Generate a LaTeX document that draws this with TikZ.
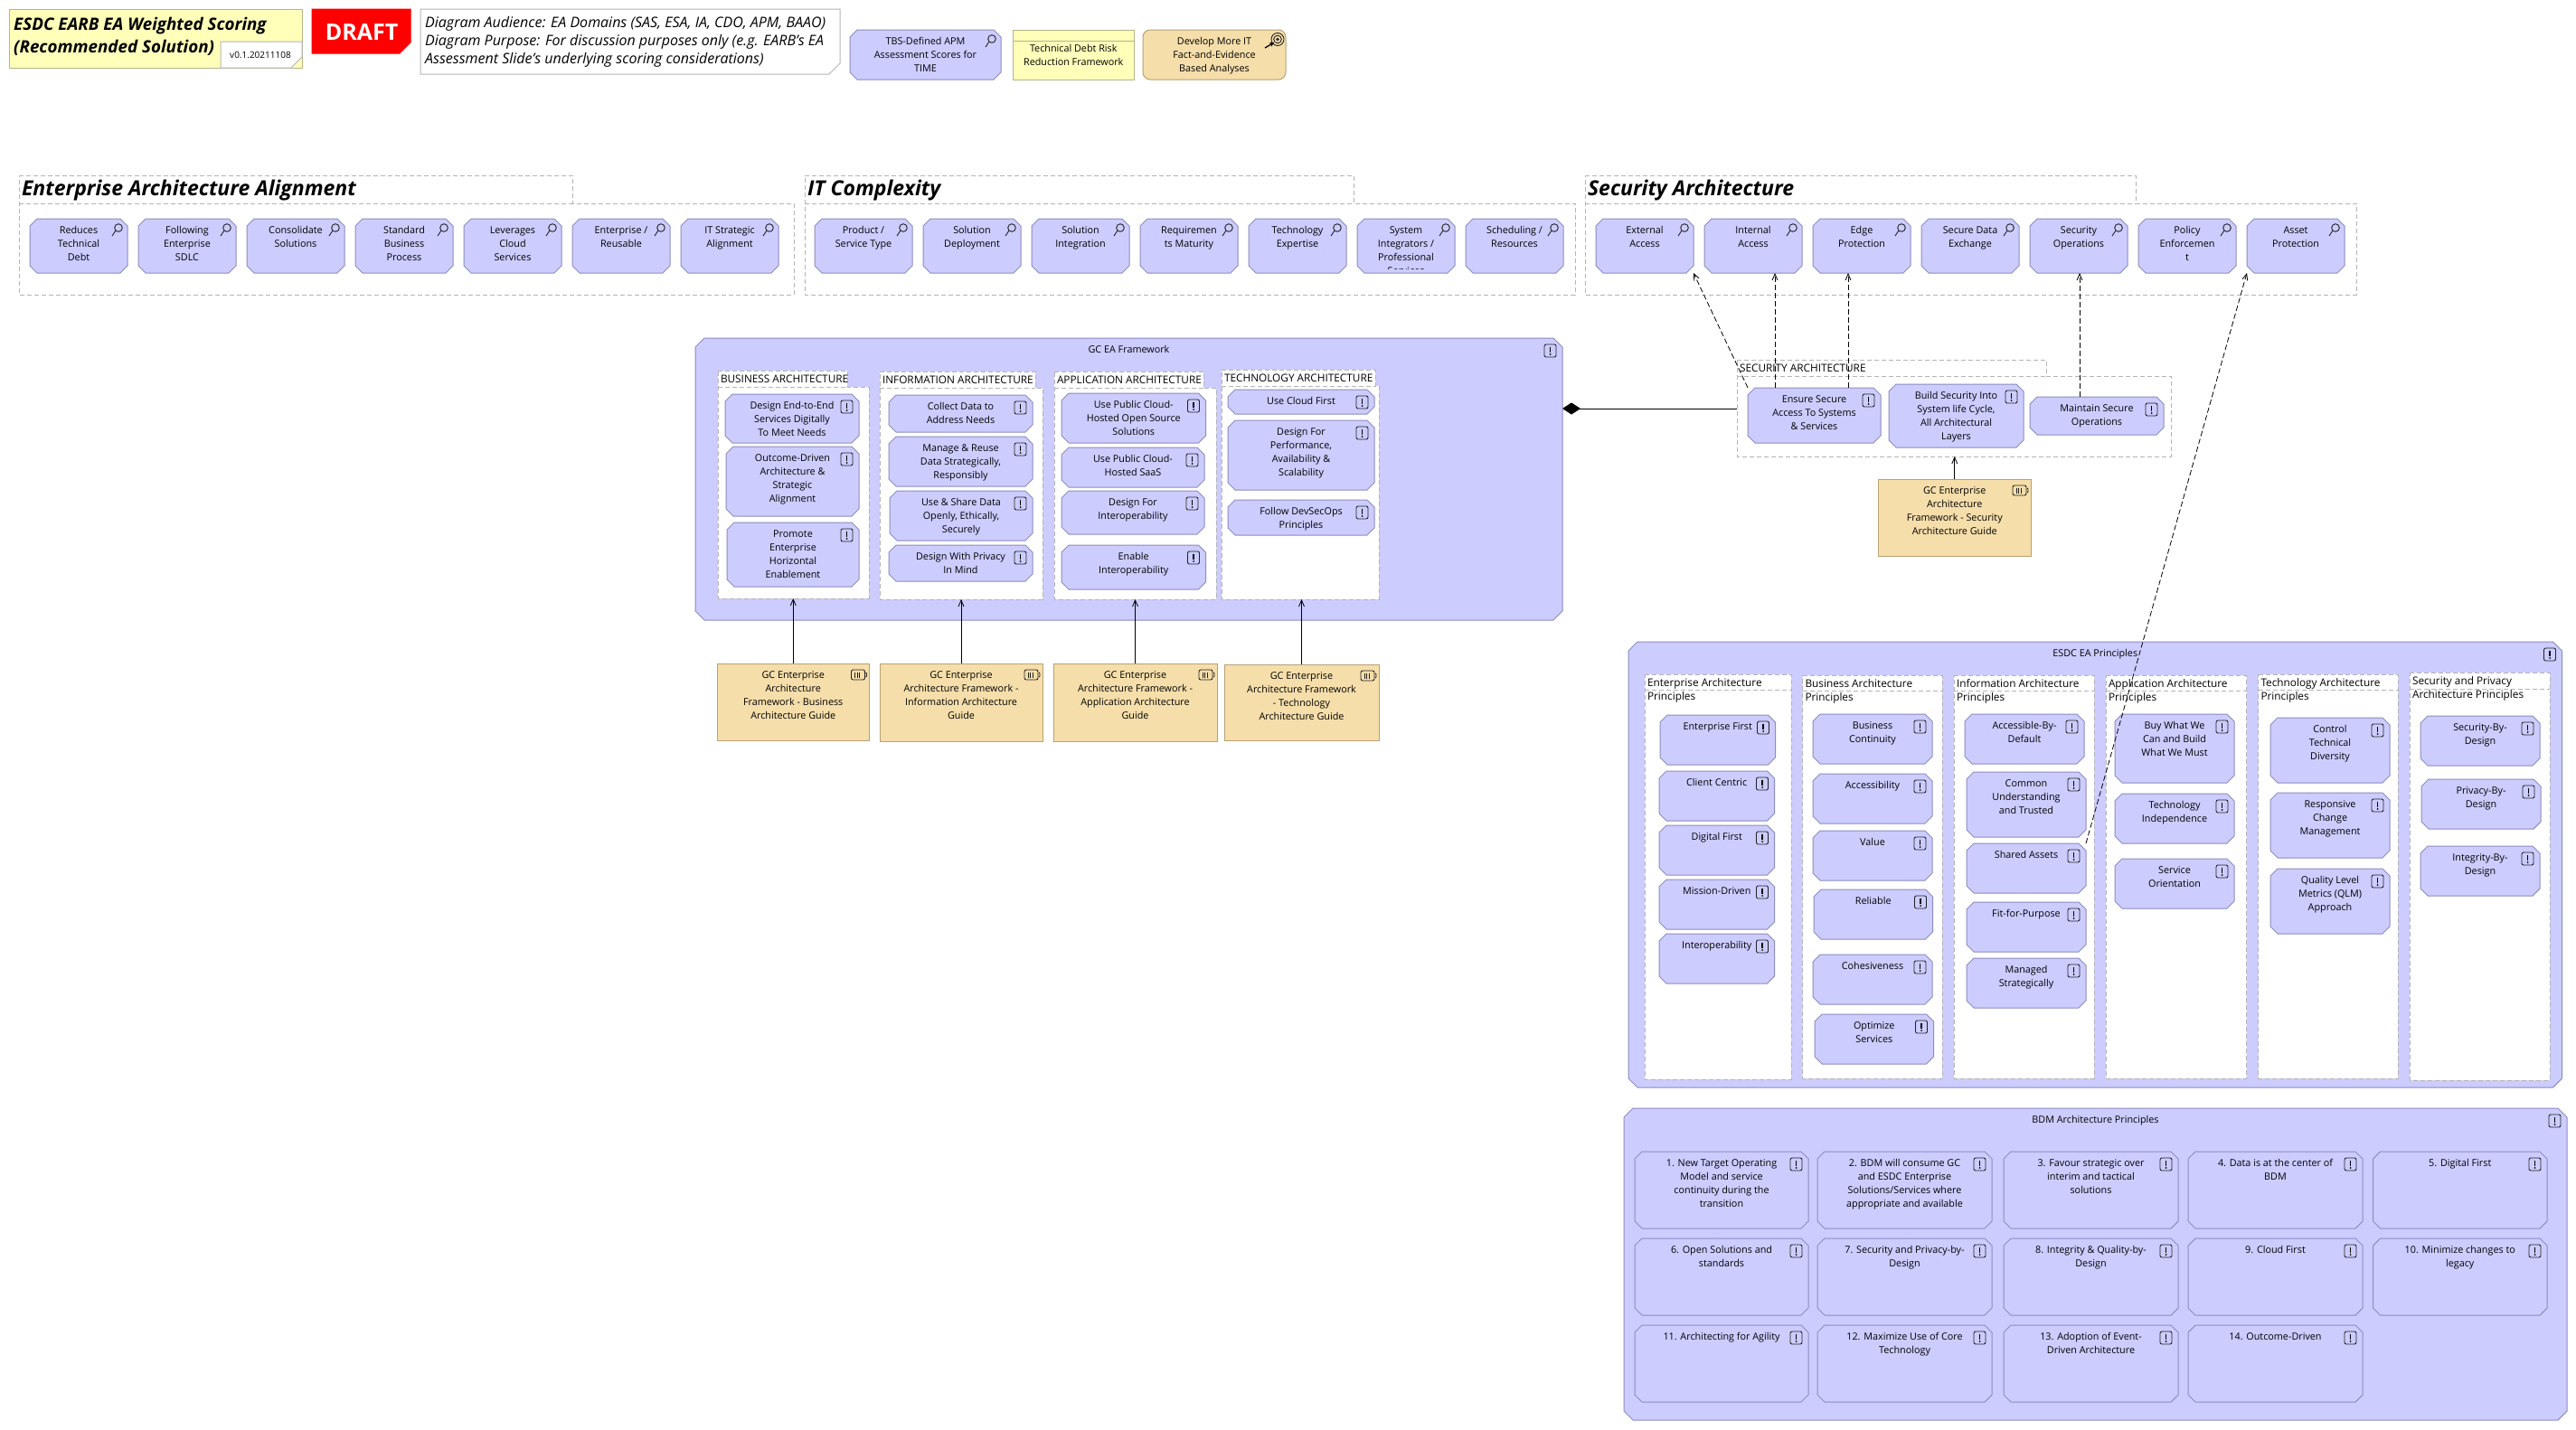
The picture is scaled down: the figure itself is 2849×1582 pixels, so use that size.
\documentclass[tikz,border=0pt]{standalone}
\usepackage{fontspec}
\setmainfont{Open Sans}
\usetikzlibrary{arrows.meta}
\definecolor{elfill}{HTML}{CCCCFF}
\definecolor{elline}{HTML}{8C8CBE}
\definecolor{orfill}{HTML}{F5DEAA}
\definecolor{orline}{HTML}{B8A276}
\definecolor{yefill}{HTML}{FFFFBA}
\definecolor{yeline}{HTML}{B5B58A}
\definecolor{grline}{HTML}{B4B4B4}
\definecolor{icline}{HTML}{222222}
\newcommand{\bodyfont}{\fontsize{10.8}{15}\selectfont}
\newcommand{\grpfont}{\fontsize{11.8}{15}\selectfont}
\newcommand{\hugefont}{\fontsize{18.8}{25}\selectfont\bfseries\itshape}
\newcommand{\notefont}{\fontsize{16}{20}\selectfont\itshape}
\newcommand{\secfont}{\fontsize{23}{25}\selectfont\bfseries\itshape}
\newcommand{\bW}{}\newcommand{\bH}{}
\tikzset{
  boxtext/.style={rectangle,inner sep=0pt,outer sep=0pt,font=\bodyfont,text=black},
  elshape/.style={fill=elfill,draw=elline,line width=1pt},
  orshape/.style={fill=orfill,draw=orline,line width=1pt},
  grpshape/.style={fill=white,draw=grline,line width=1pt,dash pattern=on 5pt off 3pt},
  iconline/.style={draw=icline,line width=.9pt},
  realizes/.style={draw=black,line width=.8pt,-{Straight Barb[length=7pt,width=6pt]}},
  dashedrel/.style={realizes,dash pattern=on 6pt off 3pt},
  composed/.style={draw=black,line width=.9pt,-{Diamond[length=20pt,width=13pt]}},
}
% text carrying box, top aligned
\newcommand{\txtbox}[6]{%
  \pgfmathsetlengthmacro\bW{#4-#2}\pgfmathsetlengthmacro\bH{#5-#3}%
  \begin{scope}
    \clip (#2,#3) rectangle (#4,{#5-5});
    \node[boxtext] (#1) at ({(#2+#4)/2},{(#3+#5)/2})
      {\parbox[c][\bH][t]{\bW}{\centering\vspace*{6pt}\rule{0pt}{10.5pt}#6\par}};
  \end{scope}}
% chamfered outline: style, x1,y1,x2,y2, c
\newcommand{\chamf}[6]{%
  \path[#1] ({#2+#6},#3) -- ({#4-#6},#3) -- (#4,{#3+#6}) -- (#4,{#5-#6}) -- ({#4-#6},#5)
    -- ({#2+#6},#5) -- (#2,{#5-#6}) -- (#2,{#3+#6}) -- cycle;}
\newcommand{\icmag}[2]{%
  \draw[iconline] ({#1-10},{#2+10}) circle (4.3);
  \draw[iconline] ({#1-13},{#2+13}) -- ({#1-17},{#2+19});}
\newcommand{\iccon}[2]{%
  \draw[iconline,rounded corners=2pt] ({#1-20},{#2+7}) rectangle ({#1-7},{#2+21});
  \draw[draw=black,line width=1.6pt] ({#1-13.5},{#2+9.5}) -- ({#1-13.5},{#2+15.5});
  \fill[black] ({#1-13.5},{#2+18}) circle (1);}
\newcommand{\ictrc}[2]{%
  \draw[iconline,rounded corners=2pt] ({#1-20},{#2+7}) rectangle ({#1-5},{#2+18});
  \draw[iconline] ({#1-4},{#2+10}) -- ({#1-3},{#2+11}) -- ({#1-3},{#2+14}) -- ({#1-4},{#2+15});
  \foreach \k in {16,13.5,11} {\draw[icline,line width=.7pt] ({#1-\k},{#2+9.5}) -- ({#1-\k},{#2+15.5});}}
\newcommand{\elm}[6]{\chamf{elshape}{#2}{#3}{#4}{#5}{8}\txtbox{#1}{#2}{#3}{#4}{#5}{#6}\icmag{#4}{#3}}
\newcommand{\elc}[6]{\chamf{elshape}{#2}{#3}{#4}{#5}{8}\txtbox{#1}{#2}{#3}{#4}{#5}{#6}\iccon{#4}{#3}}
\newcommand{\frm}[6]{\chamf{elshape}{#2}{#3}{#4}{#5}{10}\txtbox{#1}{#2}{#3}{#4}{#5}{#6}\iccon{#4}{#3}}
\newcommand{\ctr}[6]{\path[orshape] (#2,#3) rectangle (#4,#5);\txtbox{#1}{#2}{#3}{#4}{#5}{#6}\ictrc{#4}{#3}}
% group: name,x1,ytab,xtab,ybody,x2,y2,label
\newcommand{\grp}[8]{%
  \path[grpshape] (#2,#3) -- (#4,#3) -- (#4,#5) -- (#6,#5) -- (#6,#7) -- (#2,#7) -- cycle;
  \draw[grline,line width=1pt,dash pattern=on 5pt off 3pt] (#2,#5) -- (#4,#5);
  \pgfmathsetlengthmacro\bW{#6-#2}\pgfmathsetlengthmacro\bH{#7-#5}%
  \node[rectangle,inner sep=0pt,outer sep=0pt,minimum width=\bW,minimum height=\bH] (#1) at ({(#2+#6)/2},{(#5+#7)/2}) {};
  \node[boxtext,font=\grpfont,anchor=north west,align=left] (#1-label) at ({#2+3},{#3+4.8}) {#8};}
\begin{document}
\begin{tikzpicture}[x=1pt,y=-1pt]
\useasboundingbox (0,0) rectangle (2849,1582);
\fill[white] (0,0) rectangle (2849,1582);
% ---- header
\path[fill=yefill,draw=yeline,line width=1pt] (10,10) rectangle (334,75);
\node[anchor=north west,inner sep=0pt,align=left,font=\hugefont] (title) at (15,19.5) {ESDC EARB EA Weighted Scoring\\(Recommended Solution)};
\path[fill=white,draw=grline,line width=1pt] (244,46) -- (334,46) -- (334,63) -- (322,75) -- (244,75) -- cycle;
\node[inner sep=0pt,font=\fontsize{10}{12}\selectfont] (version) at (288,61) {v0.1.20211108};
\path[fill=red,draw=red,line width=1pt] (345,10) -- (454,10) -- (454,47) -- (442,59) -- (345,59) -- cycle;
\node[inner sep=0pt,text=white,font=\fontsize{25}{28}\selectfont\bfseries] (draft) at (400,36) {DRAFT};
\path[fill=white,draw=grline,line width=1pt] (465,10) -- (929,10) -- (929,70) -- (917,82) -- (465,82) -- cycle;
\node[anchor=north west,inner sep=0pt,align=left,font=\notefont] (audience) at (470,18) {Diagram Audience: EA Domains (SAS, ESA, IA, CDO, APM, BAAO)\\Diagram Purpose: For discussion purposes only (e.g. EARB's EA\\Assessment Slide's underlying scoring considerations)};
\elm{tbs}{940}{33}{1107}{88}{TBS-Defined APM\\Assessment Scores for\\TIME}
\path[fill=yefill,draw=yeline,line width=1pt] (1120,33) rectangle (1254.5,88);
\draw[yeline,line width=1pt] (1120,45) -- (1254.5,45);
\txtbox{debt}{1120}{41}{1254.5}{88}{Technical Debt Risk\\Reduction Framework}
\path[orshape,rounded corners=8pt] (1264,33) rectangle (1422,88);
\txtbox{goal}{1264}{33}{1422}{88}{Develop More IT\\Fact-and-Evidence\\Based Analyses}
\draw[iconline] (1413,43.5) circle (7) (1413,43.5) circle (4.3);
\fill[icline] (1413,43.5) circle (1.8);
\draw[draw=black,line width=1.3pt,-{Stealth[length=5pt,width=5pt]}] (1399,53) -- (1409,47);
% ---- scoring groups
\grp{eagrp}{21}{194}{633}{225}{878}{326}{\secfont Enterprise Architecture Alignment}
\elm{reduces}{33}{242}{141}{302}{Reduces\\Technical\\Debt}
\elm{following}{153}{242}{261}{302}{Following\\Enterprise\\SDLC}
\elm{consolidate}{273}{242}{381}{302}{Consolidate\\Solutions}
\elm{standard}{393}{242}{501}{302}{Standard\\Business\\Process}
\elm{leverages}{513}{242}{621}{302}{Leverages\\Cloud\\Services}
\elm{reusable}{633}{242}{741}{302}{Enterprise /\\Reusable}
\elm{itstrat}{753}{242}{861}{302}{IT Strategic\\Alignment}
\grp{itgrp}{890}{194}{1497.5}{225}{1742}{326}{\secfont IT Complexity}
\elm{product}{901}{242}{1009}{302}{Product /\\Service Type}
\elm{soldep}{1021}{242}{1129}{302}{Solution\\Deployment}
\elm{solint}{1141}{242}{1249}{302}{Solution\\Integration}
\elm{reqmat}{1261}{242}{1369}{302}{Requiremen\\ts Maturity}
\elm{techexp}{1381}{242}{1489}{302}{Technology\\Expertise}
\elm{sysint}{1501}{242}{1609}{302}{System\\Integrators /\\Professional\\Services}
\elm{sched}{1621}{242}{1729}{302}{Scheduling /\\Resources}
\grp{secgrp}{1753}{194}{2362}{225}{2606}{326}{\secfont Security Architecture}
\elm{external}{1765}{242}{1873}{302}{External\\Access}
\elm{internal}{1885}{242}{1993}{302}{Internal\\Access}
\elm{edge}{2005}{242}{2113}{302}{Edge\\Protection}
\elm{securedata}{2125}{242}{2233}{302}{Secure Data\\Exchange}
\elm{secops}{2245}{242}{2353}{302}{Security\\Operations}
\elm{policy}{2365}{242}{2473}{302}{Policy\\Enforcemen\\t}
\elm{asset}{2485}{242}{2593}{302}{Asset\\Protection}
% ---- GC EA framework
\frm{gcea}{769}{374}{1728}{686}{GC EA Framework}
\grp{bagrp}{794}{410}{937}{428}{961}{662}{BUSINESS ARCHITECTURE}
\elc{ba1}{802}{436}{950}{490}{Design End-to-End\\Services Digitally\\To Meet Needs}
\elc{ba2}{803}{494}{950}{571}{Outcome-Driven\\Architecture \&\\Strategic\\Alignment}
\elc{ba3}{804}{578}{950}{649}{Promote\\Enterprise\\Horizontal\\Enablement}
\grp{iagrp}{973}{411}{1145}{429}{1153}{663}{INFORMATION ARCHITECTURE}
\elc{ia1}{983}{437}{1142}{478}{Collect Data to\\Address Needs}
\elc{ia2}{983}{483}{1142}{538}{Manage \& Reuse\\Data Strategically,\\Responsibly}
\elc{ia3}{984}{543}{1142}{598}{Use \& Share Data\\Openly, Ethically,\\Securely}
\elc{ia4}{983}{603}{1142}{643}{Design With Privacy\\In Mind}
\grp{aagrp}{1166}{411}{1331}{429}{1345}{663}{APPLICATION ARCHITECTURE}
\elc{aa1}{1174}{435}{1333.5}{490}{Use Public Cloud-\\Hosted Open Source\\Solutions}
\elc{aa2}{1174}{495}{1332}{539}{Use Public Cloud-\\Hosted SaaS}
\elc{aa3}{1174}{543}{1332}{591}{Design For\\Interoperability}
\elc{aa4}{1174}{603}{1333.5}{652}{Enable\\Interoperability}
\grp{tagrp}{1351}{409}{1521}{427}{1525}{663}{TECHNOLOGY ARCHITECTURE}
\elc{ta1}{1358}{431}{1520}{458}{Use Cloud First}
\elc{ta2}{1358}{465}{1520}{542}{Design For\\Performance,\\Availability \&\\Scalability}
\elc{ta3}{1358}{553}{1520}{592}{Follow DevSecOps\\Principles}
\ctr{gba}{793}{734}{961.5}{819}{GC Enterprise\\Architecture\\Framework - Business\\Architecture Guide}
\ctr{gia}{973}{734}{1153}{820}{GC Enterprise\\Architecture Framework -\\Information Architecture\\Guide}
\ctr{gaa}{1165}{734}{1346}{820}{GC Enterprise\\Architecture Framework -\\Application Architecture\\Guide}
\ctr{gta}{1354}{735}{1525}{819}{GC Enterprise\\Architecture Framework\\- Technology\\Architecture Guide}
% ---- security architecture
\grp{sagrp}{1921}{398}{2263.5}{416}{2401}{505}{SECURITY ARCHITECTURE}
\elc{ensure}{1933}{429}{2080}{490}{Ensure Secure\\Access To Systems\\\& Services}
\elc{build}{2089}{425}{2238}{495}{Build Security Into\\System life Cycle,\\All Architectural\\Layers}
\elc{maintain}{2245}{439}{2393}{481}{Maintain Secure\\Operations}
\ctr{gsa}{2077.5}{530}{2246}{615}{GC Enterprise\\Architecture\\Framework - Security\\Architecture Guide}
% ---- ESDC EA principles
\frm{esdc}{1801}{710}{2833.5}{1203}{ESDC EA Principles}
\grp{p1}{1819}{746}{1981}{763}{1981}{1194}{Enterprise Architecture\\Principles}
\elc{p11}{1836}{791}{1963.5}{846}{Enterprise First}
\elc{p12}{1835}{853}{1962.5}{908}{Client Centric}
\elc{p13}{1835}{913}{1962.5}{968}{Digital First}
\elc{p14}{1835}{973}{1962.5}{1028}{Mission-Driven}
\elc{p15}{1835}{1033}{1962.5}{1088}{Interoperability}
\grp{p2}{1993.5}{747}{2148}{764}{2148}{1193}{Business Architecture\\Principles}
\elc{p21}{2005}{790}{2137}{845}{Business\\Continuity}
\elc{p22}{2005}{856}{2137}{911}{Accessibility}
\elc{p23}{2005}{919}{2137}{974}{Value}
\elc{p24}{2006}{984}{2137.5}{1039}{Reliable}
\elc{p25}{2005}{1056}{2137}{1111}{Cohesiveness}
\elc{p26}{2007}{1122}{2138.5}{1177}{Optimize\\Services}
\grp{p3}{2161}{747}{2316}{764}{2316}{1193}{Information Architecture\\Principles}
\elc{p31}{2173}{790}{2305}{845}{Accessible-By-\\Default}
\elc{p32}{2175}{854}{2307}{926}{Common\\Understanding\\and Trusted}
\elc{shared}{2175}{933}{2307}{988}{Shared Assets}
\elc{p34}{2175}{998}{2307}{1053}{Fit-for-Purpose}
\elc{p35}{2175}{1060}{2307}{1115}{Managed\\Strategically}
\grp{p4}{2329}{747}{2484.5}{764}{2484.5}{1193}{Application Architecture\\Principles}
\elc{p41}{2339}{790}{2471}{866}{Buy What We\\Can and Build\\What We Must}
\elc{p42}{2339}{878}{2471}{933}{Technology\\Independence}
\elc{p43}{2339}{950}{2471}{1005}{Service\\Orientation}
\grp{p5}{2497.5}{746}{2652}{763}{2652}{1193}{Technology Architecture\\Principles}
\elc{p51}{2511}{794}{2643}{866}{Control\\Technical\\Diversity}
\elc{p52}{2511}{877}{2643}{949}{Responsive\\Change\\Management}
\elc{p53}{2511}{961}{2643}{1033}{Quality Level\\Metrics (QLM)\\Approach}
\grp{p6}{2665}{744}{2820}{762}{2820}{1195}{Security and Privacy\\Architecture Principles}
\elc{p61}{2677}{792}{2809}{847}{Security-By-\\Design}
\elc{p62}{2678}{862}{2810}{917}{Privacy-By-\\Design}
\elc{p63}{2677}{936}{2809}{991}{Integrity-By-\\Design}
% ---- BDM
\frm{bdm}{1796}{1226}{2839}{1571}{BDM Architecture Principles}
\elc{b1}{1808}{1274}{2000}{1359}{1. New Target Operating\\Model and service\\continuity during the\\transition}
\elc{b2}{2010}{1274}{2203}{1359}{2. BDM will consume GC\\and ESDC Enterprise\\Solutions/Services where\\appropriate and available}
\elc{b3}{2216}{1274}{2409}{1359}{3. Favour strategic over\\interim and tactical\\solutions}
\elc{b4}{2420}{1274}{2613}{1359}{4. Data is at the center of\\BDM}
\elc{b5}{2624.5}{1274}{2817}{1359}{5. Digital First}
\elc{b6}{1808}{1370}{2000}{1455}{6. Open Solutions and\\standards}
\elc{b7}{2010}{1370}{2203}{1455}{7. Security and Privacy-by-\\Design}
\elc{b8}{2216}{1370}{2409}{1455}{8. Integrity \& Quality-by-\\Design}
\elc{b9}{2420}{1370}{2613}{1455}{9. Cloud First}
\elc{b10}{2624.5}{1370}{2817}{1455}{10. Minimize changes to\\legacy}
\elc{b11}{1808}{1466}{2000}{1551}{11. Architecting for Agility}
\elc{b12}{2010}{1466}{2203}{1551}{12. Maximize Use of Core\\Technology}
\elc{b13}{2216}{1466}{2409}{1551}{13. Adoption of Event-\\Driven Architecture}
\elc{b14}{2420}{1466}{2613}{1551}{14. Outcome-Driven}
% ---- connectors
\draw[realizes] (gba.north) -- (gba.north |- bagrp.south);
\draw[realizes] (gia.north) -- (gia.north |- iagrp.south);
\draw[realizes] (gaa.north) -- (gaa.north |- aagrp.south);
\draw[realizes] (gta.north) -- (gta.north |- tagrp.south);
\draw[realizes] (gsa.north) -- (gsa.north |- sagrp.south);
\draw[composed] ([yshift=8.5pt]sagrp.west) -- ([yshift=8.5pt]sagrp.west -| gcea.east);
\draw[dashedrel] (ensure.north west) -- (external.south east);
\draw[dashedrel] ([xshift=-43.5pt]ensure.north) -- ([xshift=24pt]internal.south);
\draw[dashedrel] ([xshift=37.5pt]ensure.north) -- ([xshift=-15pt]edge.south);
\draw[dashedrel] ([xshift=-19pt]maintain.north) -- ([xshift=1pt]secops.south);
\draw[dashedrel] (shared.north east) -- (asset.south west);
\end{tikzpicture}
\end{document}
